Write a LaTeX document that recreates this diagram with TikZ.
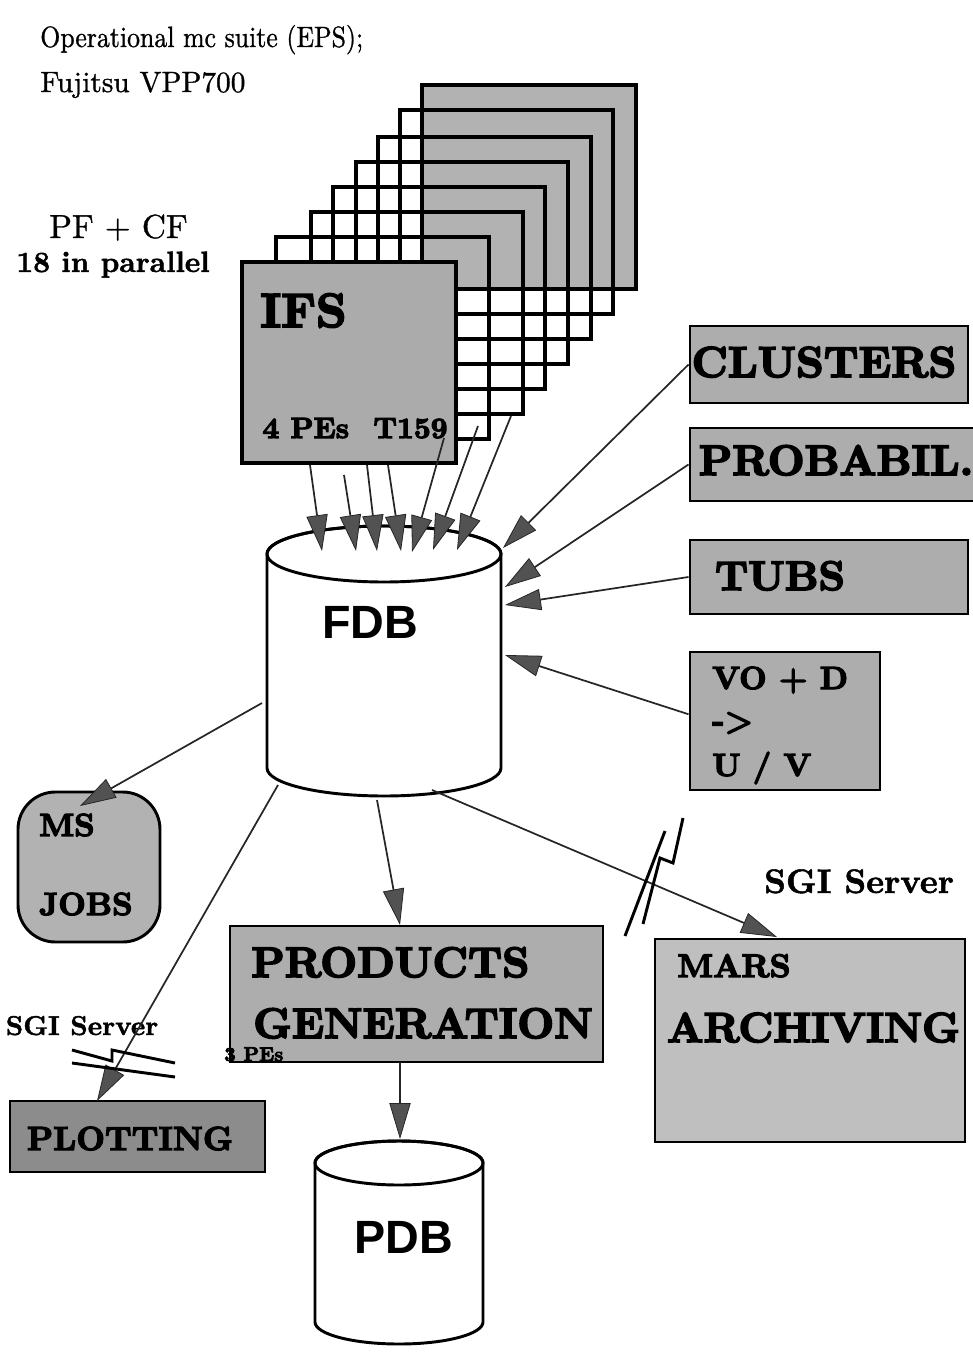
\documentclass[tikz,border=0pt]{standalone}
\usepackage{fontspec}
\usepackage{graphicx}
\newfontfamily\sansb{Liberation Sans}
\newfontfamily\hv{lmroman10-bold.otf}[FakeBold=4]
\newfontfamily\md{lmroman10-bold.otf}[FakeBold=1.5]
\newfontfamily\rg{lmroman10-regular.otf}[FakeBold=1]
\usetikzlibrary{arrows.meta,fit}
\newcommand\fs[1]{\fontsize{#1}{#1}\selectfont}
\tikzset{
  box/.style={draw, line width=2.2pt, inner sep=0pt},
  ifsbox/.style={draw, line width=2.6pt, inner sep=0pt},
  gbox/.style={box, fill=black!32},
  lbl/.style={inner sep=0pt, anchor=base},
  lblw/.style={inner sep=0pt, anchor=base west},
  arr/.style={draw=black!85, line width=1.3pt,
    -{Triangle[length=27pt,width=16pt,fill=black!68,line width=0.6pt]}},
  brk/.style={line width=2.2pt},
  cyl/.style={draw, line width=2.2pt, fill=white},
}
\begin{document}
\begin{tikzpicture}[x=0.75pt,y=-0.75pt]
\useasboundingbox (0,0) rectangle (972,1358);

% ---------- titles ----------
\node[lblw] (title) at (40,47) {\scalebox{0.88}[1]{\fs{22}\rg Operational mc suite (EPS);}};
\node[lblw] (host) at (40,92) {\fs{22}\rg Fujitsu VPP700};
\node[lbl] (pfcf) at (118.5,238) {\fs{25}\rg PF + CF};
\node[lbl] (par) at (113,272) {\fs{22}\md 18 in parallel};

% ---------- IFS stack ----------
\node[ifsbox, fill=black!30, fit={(422,85)(636,289)}] (ifs7) {};
\node[ifsbox, fit={(400,110)(613,314)}] (ifs6) {};
\node[ifsbox, fit={(378,137)(591,339)}] (ifs5) {};
\node[ifsbox, fit={(356,162)(568,364)}] (ifs4) {};
\node[ifsbox, fit={(333,187)(545,389)}] (ifs3) {};
\node[ifsbox, fit={(311,212)(523,414)}] (ifs2) {};
\node[ifsbox, fit={(276,237)(489,439)}] (ifs1) {};
\node[ifsbox, fill=black!33, fit={(242,262)(456,463)}] (ifs0) {};
\node[lblw] (ifsT) at (260,327) {\fs{36}\hv IFS};
\node[lbl] (ifsPE) at (355,438) {\fs{22}\hv 4 PEs\hspace{0.45em} T159};

% ---------- FDB cylinder ----------
\path[cyl] (267,554) -- (267,768) arc[start angle=180, end angle=0, x radius=117, y radius=28]
  -- (501,554) arc[start angle=0, end angle=-180, x radius=117, y radius=28] -- cycle;
\draw[line width=2.2pt] (384,554) ellipse [x radius=117, y radius=28];
\node[lbl] (fdb) at (370,638) {\fs{35}\sansb\bfseries FDB};

% ---------- PDB cylinder ----------
\path[cyl] (315,1163) -- (315,1322) arc[start angle=180, end angle=0, x radius=84, y radius=22]
  -- (483,1163) arc[start angle=0, end angle=-180, x radius=84, y radius=22] -- cycle;
\draw[line width=2.2pt] (399,1163) ellipse [x radius=84, y radius=22];
\node[lbl] (pdb) at (404,1253) {\fs{35}\sansb\bfseries PDB};

% ---------- right boxes ----------
\node[gbox, fit={(690,326)(968,403)}] (clusters) {};
\node[lbl] (clT) at (824,377) {\fs{32.5}\hv CLUSTERS};
\node[gbox, fit={(690,428)(990,501)}] (probabil) {};
\node[lbl] (prT) at (836,475) {\fs{32}\hv PROBABIL.};
\node[gbox, fit={(690,540)(968,614)}] (tubs) {};
\node[lbl] (tuT) at (780,590) {\fs{31}\hv TUBS};
\node[gbox, fit={(690,652)(880,790)}] (vod) {};
\node[lblw] (v1) at (712,689) {\fs{24}\hv VO + D};
\node[lblw] (v2) at (712,731) {\fs{24}\hv ->};
\node[lblw] (v3) at (712,776) {\fs{24}\hv U / V};

% ---------- lower boxes ----------
\node[gbox, fill=black!30, rounded corners=28pt, fit={(18,792)(160,942)}] (ms) {};
\node[lblw] (msT) at (39,836) {\fs{24}\hv MS};
\node[lblw] (jobsT) at (39,915) {\fs{24}\hv JOBS};

\node[gbox, fit={(230,926)(603,1062)}] (products) {};
\node[lblw] (prodT) at (251,977) {\fs{32}\hv PRODUCTS};
\node[lblw] (genT) at (253,1038) {\fs{32}\hv GENERATION};
\node[lblw] (pesT) at (224,1061) {\fs{15}\hv 3 PEs};

\node[box, fill=black!45, fit={(10,1101)(265,1172)}] (plotting) {};
\node[lbl] (plT) at (130,1150) {\fs{25}\hv PLOTTING};

\node[box, fill=black!25, fit={(655,939)(965,1142)}] (mars) {};
\node[lbl] (marsT) at (734,977) {\fs{24.5}\hv MARS};
\node[lbl] (archT) at (813.5,1042) {\fs{31.5}\hv ARCHIVING};

\node[lbl] (sgiR) at (859,893) {\fs{25.5}\md SGI Server};
\node[lbl] (sgiL) at (82,1035) {\fs{20.5}\md SGI Server};

% ---------- coordinates ----------
\coordinate (s1) at (310,465);  \coordinate (t1) at (322,551);
\coordinate (s2) at (344,475);  \coordinate (t2) at (356,551);
\coordinate (s3) at (367,465);  \coordinate (t3) at (377,551);
\coordinate (s4) at (388,465);  \coordinate (t4) at (401,551);
\coordinate (s5) at (444,438);  \coordinate (t5) at (412,552);
\coordinate (s6) at (478,426);  \coordinate (t6) at (433,550);
\coordinate (s7) at (511,416);  \coordinate (t7) at (457,550);
\coordinate (tC) at (503,548);
\coordinate (tP) at (505,587);
\coordinate (tT) at (505,605);
\coordinate (tV) at (505,655);
\coordinate (oMS) at (262,703);  \coordinate (iMS) at (80,806);
\coordinate (oPL) at (278,785);  \coordinate (iPL) at (97,1101);
\coordinate (oPR) at (377,800);  \coordinate (iPR) at (400,925);
\coordinate (oMA) at (432,790);  \coordinate (iMA) at (777,937);
\coordinate (oPD) at (400,1062); \coordinate (iPD) at (400,1139);

% ---------- connectors ----------
\foreach \i in {1,...,7} \draw[arr] (s\i) -- (t\i);
\draw[arr] (clusters.west) -- (tC);
\draw[arr] (probabil.west) -- (tP);
\draw[arr] (tubs.west) -- (tT);
\draw[arr] (vod.176) -- (tV);
\draw[arr] (oMS) -- (iMS);
\draw[arr] (oPL) -- (iPL);
\draw[arr] (oPR) -- (iPR);
\draw[arr] (oMA) -- (iMA);
\draw[arr] (oPD) -- (iPD);

% ---------- break marks ----------
\draw[brk] (625,936) -- (665,831);
\draw[brk] (643,924) -- (660,858) -- (673,863) -- (683,818);
\draw[brk] (72,1050) -- (112,1061) -- (112,1050) -- (175,1063);
\draw[brk] (72,1063) -- (175,1077);
\end{tikzpicture}
\end{document}
